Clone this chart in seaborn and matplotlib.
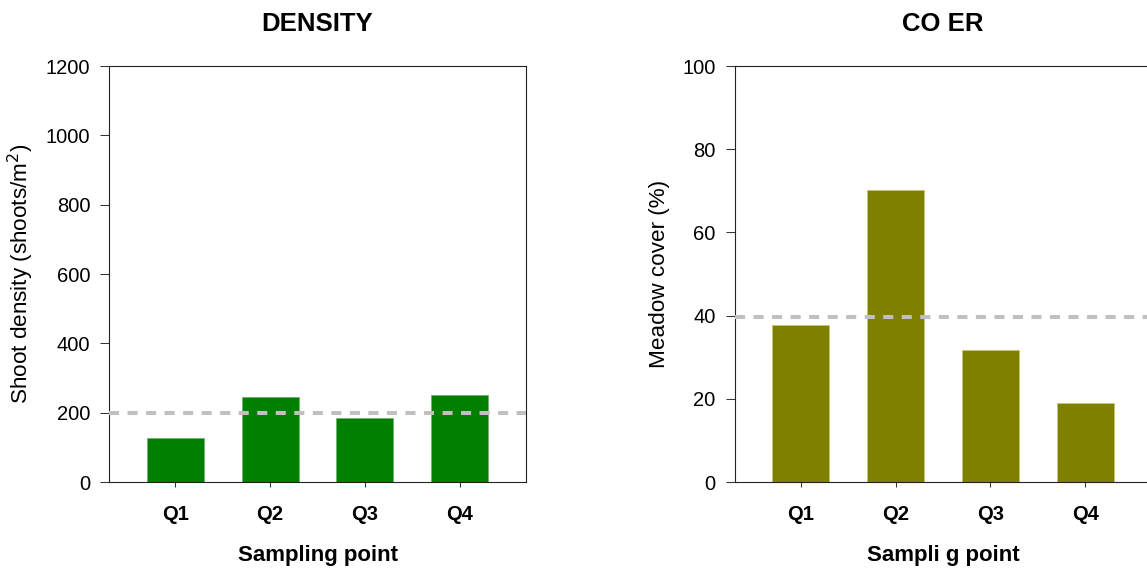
import pandas as pd
import matplotlib.pyplot as plt
import seaborn as sns

points = ['Q1', 'Q2', 'Q3', 'Q4']
density = [126, 245, 184, 250]
density_ref = 200
cover = [37.7, 70.1, 31.8, 19.0]
cover_ref = 39.6

sns.set_style('ticks')
plt.rcParams['font.family'] = ['Liberation Sans', 'DejaVu Sans']
plt.rcParams['text.color'] = 'black'
plt.rcParams['axes.labelcolor'] = 'black'
plt.rcParams['xtick.labelcolor'] = 'black'
plt.rcParams['ytick.labelcolor'] = 'black'

fig = plt.figure(figsize=(11.47, 5.68), dpi=100)
ax1 = fig.add_axes([109 / 1147, 1 - 482 / 568, 417 / 1147, 416 / 568])
ax2 = fig.add_axes([734.5 / 1147, 1 - 482 / 568, 417 / 1147, 416 / 568])

panels = [
    (ax1, density, density_ref, '#007f00', '#6fb46f', 'DENSITY', 'Sampling point',
     'Shoot density (shoots/m$^{2}$)', (0, 1200), range(0, 1201, 200), 7),
    (ax2, cover, cover_ref, '#808000', '#c4c47a', 'CO ER', 'Sampli g point',
     'Meadow cover (%)', (0, 100), range(0, 101, 20), 9),
]

for ax, vals, ref, col, edge, title, xlab, ylab, ylim, yticks, ypad in panels:
    df = pd.DataFrame({'point': points, 'value': vals})
    sns.barplot(data=df, x='point', y='value', ax=ax, color=col, width=0.6,
                saturation=1, edgecolor=edge, linewidth=0.6)
    # reference level
    ax.axhline(ref, color='#c0c0c0', lw=2.9, linestyle=(0, (2.5, 2.1)),
               dash_capstyle='butt', zorder=3)
    ax.set_xlim(-0.7, 3.7)
    ax.set_ylim(*ylim)
    ax.set_yticks(list(yticks))
    ax.set_title(title, fontsize=18.5, fontweight='bold', pad=25)
    ax.set_xlabel(xlab, fontsize=16, fontweight='bold', labelpad=15)
    ax.set_ylabel(ylab, fontsize=16.2, labelpad=ypad)
    ax.tick_params(axis='y', direction='out', length=6.5, width=0.75,
                   pad=7, labelsize=14.5, color='#333333')
    ax.tick_params(axis='x', direction='out', length=3.6, width=0.75,
                   pad=13, labelsize=14.5, color='#333333')
    for lbl in ax.get_xticklabels():
        lbl.set_fontweight('bold')
    for sp in ax.spines.values():
        sp.set_visible(True)
        sp.set_linewidth(0.8)
        sp.set_color('#222222')

fig.savefig('out.png', dpi=100)
